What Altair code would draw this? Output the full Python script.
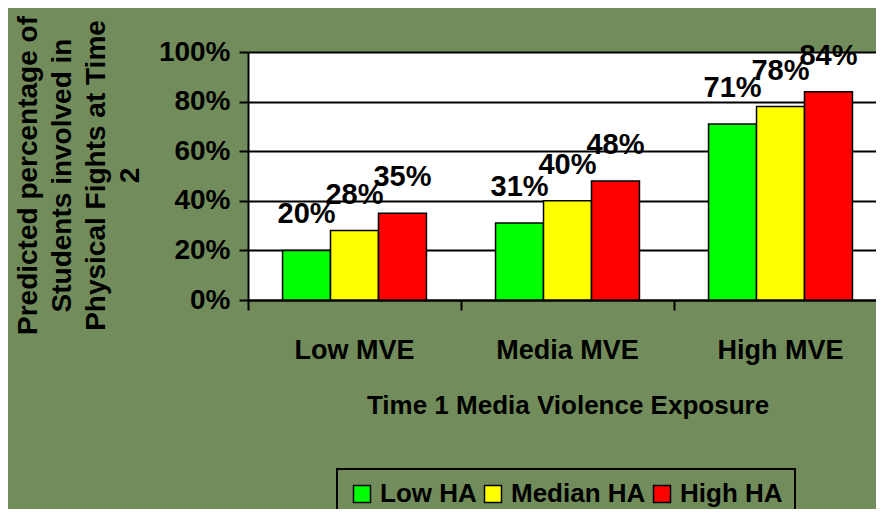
import altair as alt
import pandas as pd

groups = ["Low MVE", "Media MVE", "High MVE"]
series = ["Low HA", "Median HA", "High HA"]
low_ha = [20, 31, 71]
median_ha = [28, 40, 78]
high_ha = [35, 48, 84]
colors = ["#00FF00", "#FFFF00", "#FF0000"]
y_ticks = [0, 0.2, 0.4, 0.6, 0.8, 1.0]
y_title = ["Predicted percentage of", "Students involved in", "Physical Fights at Time", "2"]
x_title = "Time 1 Media Violence Exposure"

rows = []
for s, vals in zip(series, [low_ha, median_ha, high_ha]):
    for g, v in zip(groups, vals):
        rows.append({"group": g, "series": s, "value": v / 100, "label": f"{v}%"})
df = pd.DataFrame(rows)

FONT = "Liberation Sans"

x_enc = alt.X(
    "group:N", sort=groups,
    scale=alt.Scale(paddingInner=0, paddingOuter=0, range=[0, 639]),
    axis=alt.Axis(
        bandPosition=0, labelAngle=0, labelOverlap=False,
        labelFont=FONT, labelFontSize=27, labelFontWeight="bold", labelColor="black",
        labelBaseline="alphabetic", labelPadding=48,
        ticks=True, tickSize=10, tickColor="black", tickWidth=2,
        domainColor="black", domainWidth=2,
        title=x_title, titleFont=FONT, titleFontSize=26, titleFontWeight="bold",
        titleColor="black", titleX=319.5, titleY=113, titleBaseline="alphabetic",
        titleAlign="center",
    ),
)
xoff_enc = alt.XOffset("series:N", sort=series,
                       scale=alt.Scale(paddingInner=0, paddingOuter=0.72))
y_enc = alt.Y(
    "value:Q", scale=alt.Scale(domain=[0, 1], nice=False),
    axis=alt.Axis(
        values=y_ticks, format=".0%",
        labelFont=FONT, labelFontSize=28, labelFontWeight="bold", labelColor="black",
        labelPadding=9, tickSize=9, tickColor="black", tickWidth=2,
        domainColor="black", domainWidth=2,
        grid=True, gridColor="black", gridWidth=2,
        title=y_title, titleFont=FONT, titleFontSize=28, titleFontWeight="bold",
        titleColor="black", titleAngle=270, titleX=-212, titleY=123,
        titleBaseline="alphabetic", titleAlign="center", titleLineHeight=34,
    ),
)

base = alt.Chart(df)

bars = base.mark_bar(stroke="black", strokeWidth=1.5).encode(
    x=x_enc,
    xOffset=xoff_enc,
    y=y_enc,
    color=alt.Color(
        "series:N", sort=series,
        scale=alt.Scale(domain=series, range=colors),
        legend=alt.Legend(
            orient="none", legendX=89, legendY=417, direction="horizontal",
            title=None, symbolType="square", symbolSize=289,
            symbolStrokeColor="black", symbolStrokeWidth=1.5, symbolOpacity=1,
            labelFont=FONT, labelFontSize=26, labelFontWeight="bold", labelColor="black",
            labelOffset=5, columnPadding=3, padding=12,
            strokeColor="black",
        ),
    ),
)

labels = base.mark_text(
    font=FONT, fontSize=29, fontWeight="bold", color="black",
    baseline="alphabetic", align="center", dy=-27,
).encode(
    x=alt.X("group:N", sort=groups),
    xOffset=alt.XOffset("series:N", sort=series),
    y=alt.Y("value:Q"),
    text=alt.Text("label:N"),
)

chart = alt.layer(bars, labels).properties(
    width=628, height=248,
    autosize=alt.AutoSizeParams(type="none"),
    padding={"left": 240, "top": 44, "right": 0, "bottom": 209},
    background="#728d5b",
).configure_view(
    fill="white", stroke=None,
).configure_legend(strokeWidth=2)

chart.save("out.html", embed_options={"renderer": "svg", "actions": False})
